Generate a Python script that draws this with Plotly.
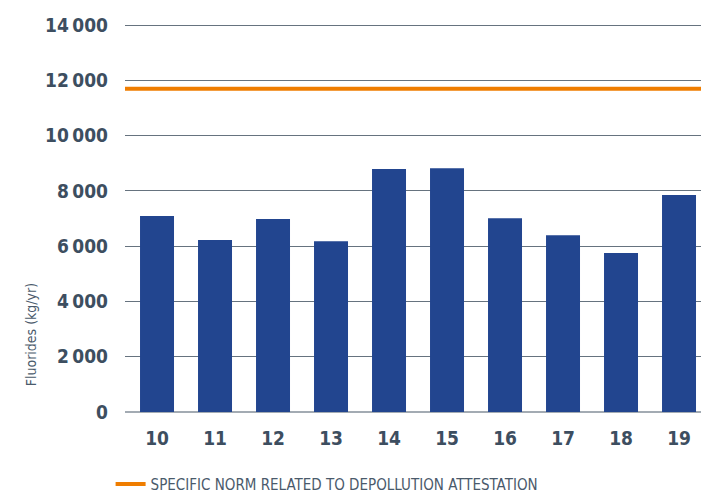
import plotly.graph_objects as go

years = ["10", "11", "12", "13", "14", "15", "16", "17", "18", "19"]
fluorides = [7090, 6220, 6980, 6180, 8790, 8820, 7010, 6400, 5750, 7850]
norm_value = 11700
norm_label = "SPECIFIC NORM RELATED TO DEPOLLUTION ATTESTATION"
y_ticks = [0, 2000, 4000, 6000, 8000, 10000, 12000, 14000]
y_ticktext = ["0", "2\u2009000", "4\u2009000", "6\u2009000", "8\u2009000",
              "10\u2009000", "12\u2009000", "14\u2009000"]

FONT = "DejaVu Sans Condensed, Roboto, sans-serif"
TXT = "#3d4e60"

fig = go.Figure()
fig.add_trace(go.Bar(
    x=years, y=fluorides,
    marker=dict(color="#22458f", line=dict(width=0)),
    width=0.586,
    showlegend=False,
    hoverinfo="x+y",
))

# norm line across the whole plot area
fig.add_shape(
    type="line", xref="paper", x0=0, x1=1, yref="y", y0=norm_value, y1=norm_value,
    line=dict(color="#ef7d00", width=4),
    showlegend=True, name=norm_label, layer="above",
)

fig.add_annotation(
    text="Fluorides (kg/yr)", textangle=-90,
    xref="paper", x=-0.163, yref="paper", y=0.198, xanchor="center", yanchor="middle",
    showarrow=False, font=dict(family=FONT, size=14, color="#4a5a6b"),
)

fig.update_layout(
    width=701, height=494,
    margin=dict(l=125, r=0, t=24, b=82, autoexpand=False),
    plot_bgcolor="white", paper_bgcolor="white",
    xaxis=dict(
        type="category", range=[-0.552, 9.379],
        showgrid=False, showline=False, ticks="",
        ticklabelstandoff=13,
        tickfont=dict(family=FONT, size=19, color=TXT, weight="bold"),
    ),
    yaxis=dict(
        range=[0, 14040], tickvals=y_ticks, ticktext=y_ticktext,
        showgrid=True, gridcolor="#66737f", gridwidth=1,
        zeroline=True, zerolinecolor="#a3abb3", zerolinewidth=2,
        showline=False, ticks="",
        ticklabelstandoff=16,
        tickfont=dict(family=FONT, size=19, color=TXT, weight="bold"),
    ),
    legend=dict(
        orientation="h", x=-0.025, xanchor="left", y=-0.186, yanchor="middle",
        itemwidth=30,
        font=dict(family=FONT, size=15, color="#4a5a6b"),
    ),
    showlegend=True,
)

fig.write_html("out.html", config={"displayModeBar": False},
               post_script="document.body.style.margin='0';")
